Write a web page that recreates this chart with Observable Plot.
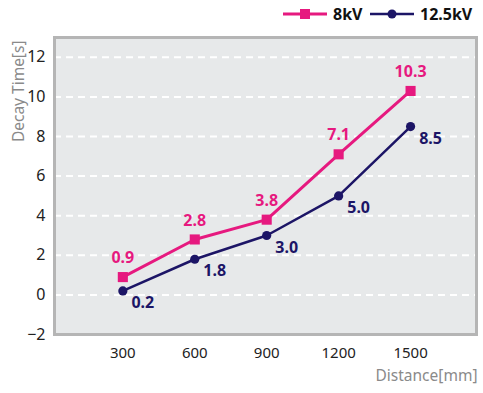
<!DOCTYPE html>
<html>
<head>
<meta charset="utf-8">
<script src="https://cdn.jsdelivr.net/npm/d3@7"></script>
<script src="https://cdn.jsdelivr.net/npm/@observablehq/plot@0.6"></script>
<style>
  body { margin: 0; background: #fff; font-family: "Noto Sans", sans-serif; }
  #legend { height: 30px; width: 483px; position: relative; }
  #legend .item { position: absolute; top: 3px; display: flex; align-items: center; font-weight: bold; font-size: 16px; color: #111; }
  #legend svg { margin-right: 6px; }
</style>
</head>
<body>
<div id="legend"></div>
<div id="chart"></div>
<script>
const distances = [300, 600, 900, 1200, 1500];
const series8kV = [0.9, 2.8, 3.8, 7.1, 10.3];
const series125kV = [0.2, 1.8, 3.0, 5.0, 8.5];
const seriesNames = ["8kV", "12.5kV"];
const yTicks = [-2, 0, 2, 4, 6, 8, 10, 12];
const gridValues = [0, 2, 4, 6, 8, 10, 12];

const PINK = "#e6197f";
const NAVY = "#1c1566";

const d8 = distances.map((d, i) => ({distance: d, value: series8kV[i], series: seriesNames[0]}));
const d12 = distances.map((d, i) => ({distance: d, value: series125kV[i], series: seriesNames[1]}));

// Legend
const legend = document.getElementById("legend");
legend.innerHTML = `
  <div class="item" style="left:283px">
    <svg width="44" height="14"><line x1="0" y1="7" x2="44" y2="7" stroke="${PINK}" stroke-width="3"/><rect x="17" y="2" width="10" height="10" fill="${PINK}"/></svg>${seriesNames[0]}
  </div>
  <div class="item" style="left:370px">
    <svg width="44" height="14"><line x1="0" y1="7" x2="44" y2="7" stroke="${NAVY}" stroke-width="2.5"/><circle cx="22" cy="7" r="4.5" fill="${NAVY}"/></svg>${seriesNames[1]}
  </div>`;

const chart = Plot.plot({
  width: 483,
  height: 363,
  marginTop: 7,
  marginBottom: 59,
  marginLeft: 54,
  marginRight: 7,
  style: {fontFamily: "'Noto Sans', sans-serif", background: "transparent"},
  x: {domain: [15, 1775]},
  y: {domain: [-2, 13]},
  marks: [
    Plot.frame({fill: "#e7e9ea", stroke: "none"}),
    Plot.ruleY(gridValues, {stroke: "#ffffff", strokeWidth: 2, strokeDasharray: "7,5"}),
    Plot.frame({stroke: "#b5b5b5", strokeWidth: 3}),
    Plot.axisY({ticks: yTicks, tickSize: 0, tickPadding: 9, fontSize: 16, label: null, color: "#222"}),
    Plot.axisX({ticks: distances, tickSize: 0, tickPadding: 13, fontSize: 15, label: null, color: "#222", tickFormat: d => String(d)}),
    Plot.text(["Decay Time[s]"], {frameAnchor: "top-left", rotate: -90, textAnchor: "end", dx: -42, dy: 3, fill: "#8a8a8a", fontSize: 15.5}),
    Plot.text(["Distance[mm]"], {frameAnchor: "bottom-right", textAnchor: "end", dx: 1, dy: 46, fill: "#8a8a8a", fontSize: 15.5}),
    Plot.line(d12, {x: "distance", y: "value", stroke: NAVY, strokeWidth: 2.5}),
    Plot.line(d8, {x: "distance", y: "value", stroke: PINK, strokeWidth: 3}),
    Plot.dot(d12, {x: "distance", y: "value", symbol: "circle", r: 4.6, fill: NAVY}),
    Plot.dot(d8, {x: "distance", y: "value", symbol: "square", r: 5.7, fill: PINK}),
    Plot.text(d8, {x: "distance", y: "value", text: d => d.value.toFixed(1), dy: -19, fill: PINK, fontWeight: "bold", fontSize: 16}),
    Plot.text(d12, {x: "distance", y: "value", text: d => d.value.toFixed(1), dx: 20, dy: 12, fill: NAVY, fontWeight: "bold", fontSize: 16})
  ]
});
document.getElementById("chart").appendChild(chart);
</script>
</body>
</html>
